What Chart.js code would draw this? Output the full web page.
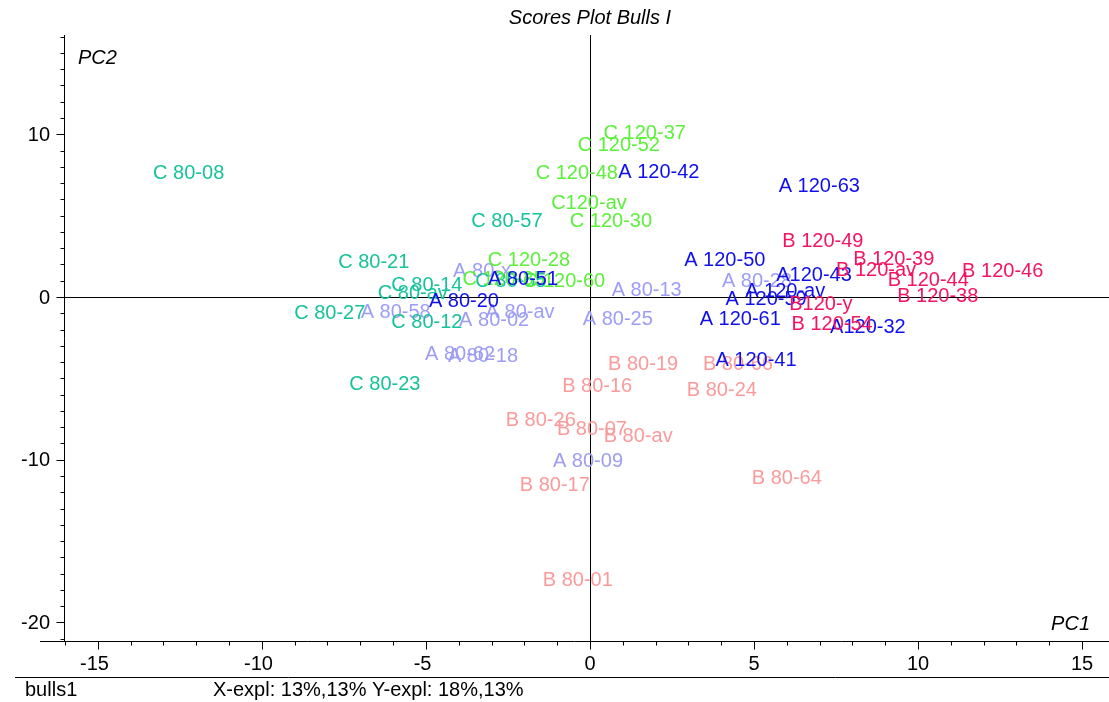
<!DOCTYPE html>
<html>
<head>
<meta charset="utf-8">
<script src="https://cdn.jsdelivr.net/npm/chart.js@4.4.1/dist/chart.umd.min.js"></script>
<style>
  html, body { margin: 0; padding: 0; background: #ffffff; }
  #wrap { position: relative; width: 1109px; height: 702px; }
</style>
</head>
<body>
<div id="wrap"><canvas id="scores" width="1109" height="702"></canvas></div>
<script>
// PCA scores (PC1, PC2) per sample, grouped by plotting colour
const tealNames = ['C 80-08', 'C 80-57', 'C 80-21', 'C 80-14', 'C 80-av', 'C 80-27', 'C 80-12', 'C 80-23', 'C 80-55'];
const tealPC1   = [-12.23, -2.53, -6.59, -4.97, -5.40, -7.93, -4.97, -6.25, -2.41];
const tealPC2   = [7.69, 4.74, 2.22, 0.86, 0.31, -0.92, -1.42, -5.23, 1.05];

const greenNames = ['C 120-37', 'C 120-52', 'C 120-48', 'C120-av', 'C 120-30', 'C 120-28', 'C 120-60', 'C 120-35'];
const greenPC1   = [1.67, 0.88, -0.40, -0.03, 0.64, -1.86, -0.79, -2.63];
const greenPC2   = [10.15, 9.42, 7.69, 5.85, 4.74, 2.34, 1.05, 1.17];

const lavenderNames = ['A 80-x', 'A 80-58', 'A 80-02', 'A 80-av', 'A 80-62', 'A 80-18', 'A 80-13', 'A 80-25', 'A 80-28', 'A 80-09'];
const lavenderPC1   = [-3.29, -5.92, -2.92, -2.13, -3.96, -3.26, 1.73, 0.85, 5.09, -0.06];
const lavenderPC2   = [1.72, -0.80, -1.29, -0.80, -3.38, -3.51, 0.55, -1.23, 1.05, -9.97];

const salmonNames = ['B 80-19', 'B 80-66', 'B 80-16', 'B 80-24', 'B 80-26', 'B 80-07', 'B 80-av', 'B 80-17', 'B 80-64', 'B 80-01'];
const salmonPC1   = [1.62, 4.51, 0.22, 4.02, -1.50, 0.06, 1.47, -1.07, 6.00, -0.37];
const salmonPC2   = [-4.00, -4.00, -5.35, -5.60, -7.45, -8.00, -8.43, -11.45, -11.00, -17.30];

const blueNames = ['A 120-42', 'A 120-63', 'A 120-50', 'A120-43', 'A 120-av', 'A 120-59', 'A 120-61', 'A120-32', 'A 120-41', 'A 80-20', 'A 80-51'];
const bluePC1   = [2.10, 6.99, 4.11, 6.83, 5.95, 5.37, 4.58, 8.47, 5.06, -3.84, -2.04];
const bluePC2   = [7.75, 6.89, 2.34, 1.42, 0.49, -0.06, -1.23, -1.78, -3.75, -0.18, 1.17];

const crimsonNames = ['B 120-49', 'B 120-39', 'B 120-av', 'B 120-46', 'B 120-44', 'B 120-38', 'B120-y', 'B 120-54'];
const crimsonPC1   = [7.10, 9.26, 8.72, 12.58, 10.31, 10.60, 7.04, 7.38];
const crimsonPC2   = [3.51, 2.40, 1.78, 1.72, 1.11, 0.18, -0.31, -1.54];

const xTickLabels = ['-15', '-10', '-5', '0', '5', '10', '15'];
const yTickLabels = ['10', '0', '-10', '-20'];

const chartTitle = 'Scores Plot Bulls I';
const xAxisName = 'PC1';
const yAxisName = 'PC2';
const fileName = 'bulls1';
const explained = 'X-expl: 13%,13% Y-expl: 18%,13%';

const FONT = '"Liberation Sans", Arial, sans-serif';

function pts(xs, ys) { return xs.map((x, i) => ({ x: x, y: ys[i] })); }

const groups = [
  { names: lavenderNames, data: pts(lavenderPC1, lavenderPC2), color: '#9d9df7' },
  { names: salmonNames,   data: pts(salmonPC1, salmonPC2),     color: '#fb9a9a' },
  { names: tealNames,     data: pts(tealPC1, tealPC2),         color: '#17c39a' },
  { names: greenNames,    data: pts(greenPC1, greenPC2),       color: '#5cf03c' },
  { names: blueNames,     data: pts(bluePC1, bluePC2),         color: '#1010ee' },
  { names: crimsonNames,  data: pts(crimsonPC1, crimsonPC2),   color: '#f5145f' }
];

// Sample names are drawn centred on each score position
const nameLabels = {
  id: 'nameLabels',
  afterDatasetsDraw(chart) {
    const ctx = chart.ctx;
    ctx.save();
    ctx.font = '20px ' + FONT;
    ctx.textAlign = 'center';
    ctx.textBaseline = 'middle';
    chart.data.datasets.forEach((ds, i) => {
      const meta = chart.getDatasetMeta(i);
      ctx.fillStyle = ds.labelColor;
      meta.data.forEach((el, j) => {
        ctx.fillText(ds.sampleNames[j], el.x, el.y + 2);
      });
    });
    ctx.restore();
  }
};

// Axes, zero lines, ticks and the frame texts
const scoresFrame = {
  id: 'scoresFrame',
  beforeDatasetsDraw(chart) {
    const { ctx, chartArea: a, scales: { x, y } } = chart;
    ctx.save();
    ctx.strokeStyle = '#000';
    ctx.lineWidth = 1;
    const x0 = Math.round(x.getPixelForValue(0)) + 0.5;
    const y0 = Math.round(y.getPixelForValue(0)) + 0.5;
    ctx.beginPath();
    ctx.moveTo(x0, a.top); ctx.lineTo(x0, a.bottom);
    ctx.moveTo(a.left, y0); ctx.lineTo(a.right, y0);
    ctx.stroke();
    ctx.restore();
  },
  afterDraw(chart) {
    const { ctx, chartArea: a, scales: { x, y } } = chart;
    ctx.save();
    ctx.strokeStyle = '#000';
    ctx.fillStyle = '#000';
    ctx.lineWidth = 1;

    const left = Math.round(a.left) - 0.5;
    const bottom = Math.round(a.bottom) + 0.5;

    // y axis with integer ticks
    ctx.beginPath();
    ctx.moveTo(left, a.top); ctx.lineTo(left, bottom);
    for (let v = Math.ceil(y.min); v <= Math.floor(y.max); v++) {
      const py = Math.round(y.getPixelForValue(v)) + 0.5;
      const len = (v % 10 === 0) ? 8 : 4;
      ctx.moveTo(left - len, py); ctx.lineTo(left, py);
    }
    // x axis line and ticks
    ctx.moveTo(40, bottom); ctx.lineTo(a.right, bottom);
    for (let v = Math.ceil(x.min); v <= Math.floor(x.max); v++) {
      const px = Math.round(x.getPixelForValue(v)) + 0.5;
      const len = (v % 5 === 0) ? 8 : 4;
      ctx.moveTo(px, bottom); ctx.lineTo(px, bottom + len);
    }
    // separator above the footer
    ctx.moveTo(15, 677.5); ctx.lineTo(chart.width, 677.5);
    ctx.stroke();

    ctx.font = '20px ' + FONT;
    ctx.textBaseline = 'middle';
    ctx.textAlign = 'right';
    yTickLabels.forEach(t => {
      ctx.fillText(t, 50, y.getPixelForValue(parseFloat(t)) + 1);
    });
    // x tick labels: digits centred on the tick, a minus sign hangs to the left
    ctx.textAlign = 'center';
    const minusW = ctx.measureText('-').width;
    xTickLabels.forEach(t => {
      const v = parseFloat(t);
      const shift = v < 0 ? minusW / 2 : 0;
      ctx.fillText(t, x.getPixelForValue(v) - shift, 664);
    });

    ctx.textAlign = 'left';
    ctx.fillText(fileName, 25, 690);
    ctx.fillText(explained, 213, 690);

    ctx.font = 'italic 20px ' + FONT;
    ctx.textAlign = 'center';
    ctx.fillText(chartTitle, x.getPixelForValue(0), 18);
    ctx.textAlign = 'left';
    ctx.fillText(yAxisName, 78, 58);
    ctx.textAlign = 'right';
    ctx.fillText(xAxisName, 1090, 624);
    ctx.restore();
  }
};

new Chart(document.getElementById('scores'), {
  type: 'scatter',
  data: {
    datasets: groups.map(g => ({
      data: g.data,
      sampleNames: g.names,
      labelColor: g.color,
      pointRadius: 0,
      pointHoverRadius: 0,
      showLine: false
    }))
  },
  options: {
    responsive: false,
    animation: false,
    devicePixelRatio: 1,
    layout: { padding: { left: 65, right: 0, top: 35, bottom: 61 } },
    plugins: { legend: { display: false }, tooltip: { enabled: false }, title: { display: false } },
    events: [],
    scales: {
      x: { type: 'linear', min: -16.0, max: 15.82, display: false },
      y: { type: 'linear', min: -21.14, max: 16.1, display: false }
    }
  },
  plugins: [scoresFrame, nameLabels]
});
</script>
</body>
</html>
